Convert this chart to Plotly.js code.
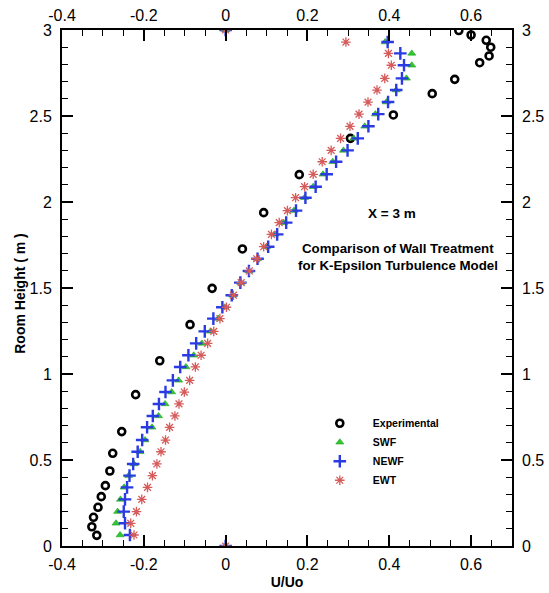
<!DOCTYPE html>
<html>
<head>
<meta charset="utf-8">
<script src="https://cdn.plot.ly/plotly-3.0.1.min.js"></script>
<style>
html,body{margin:0;padding:0;background:#fff;}
#chart{width:549px;height:593px;}
</style>
</head>
<body>
<div id="chart"></div>
<script>
// ---- data ----
const seriesNames = ['Experimental', 'SWF', 'NEWF', 'EWT'];

const expU = [0.570, 0.600, 0.637, 0.648, 0.644, 0.621, 0.560, 0.505, 0.410, 0.305, 0.180, 0.093, 0.041, -0.033, -0.087, -0.161, -0.220, -0.254, -0.276, -0.283, -0.294, -0.304, -0.312, -0.323, -0.327, -0.315];
const expH = [2.997, 2.971, 2.940, 2.900, 2.849, 2.810, 2.713, 2.630, 2.506, 2.370, 2.159, 1.938, 1.727, 1.498, 1.287, 1.077, 0.880, 0.665, 0.539, 0.436, 0.351, 0.287, 0.225, 0.167, 0.112, 0.062];

const cfdH = [0, 0.064, 0.132, 0.200, 0.271, 0.341, 0.409, 0.477, 0.548, 0.616, 0.690, 0.756, 0.826, 0.895, 0.963, 1.041, 1.109, 1.178, 1.248, 1.322, 1.388, 1.458, 1.531, 1.599, 1.670, 1.740, 1.812, 1.880, 1.950, 2.025, 2.089, 2.161, 2.234, 2.300, 2.370, 2.440, 2.511, 2.581, 2.651, 2.719, 2.795, 2.864, 2.930, 3];

const swfU = [0, -0.258, -0.268, -0.264, -0.257, -0.248, -0.237, -0.224, -0.209, -0.197, -0.180, -0.164, -0.148, -0.132, -0.115, -0.097, -0.078, -0.058, -0.037, -0.018, -0.002, 0.017, 0.037, 0.057, 0.078, 0.100, 0.121, 0.142, 0.167, 0.193, 0.214, 0.238, 0.262, 0.288, 0.313, 0.340, 0.366, 0.393, 0.417, 0.442, 0.455, 0.455, 0.390, 0];

const newfU = [0, -0.234, -0.246, -0.249, -0.246, -0.241, -0.235, -0.226, -0.215, -0.204, -0.192, -0.178, -0.163, -0.147, -0.129, -0.111, -0.091, -0.072, -0.051, -0.030, -0.008, 0.015, 0.036, 0.057, 0.078, 0.104, 0.126, 0.148, 0.172, 0.195, 0.220, 0.247, 0.270, 0.298, 0.323, 0.349, 0.373, 0.397, 0.417, 0.431, 0.436, 0.427, 0.396, 0];

const ewtU = [0, -0.224, -0.232, -0.218, -0.205, -0.191, -0.179, -0.168, -0.158, -0.147, -0.137, -0.124, -0.114, -0.101, -0.088, -0.074, -0.060, -0.044, -0.029, -0.014, 0.002, 0.019, 0.038, 0.058, 0.076, 0.093, 0.112, 0.131, 0.151, 0.171, 0.193, 0.214, 0.236, 0.258, 0.281, 0.304, 0.326, 0.348, 0.370, 0.389, 0.405, 0.398, 0.294, 0];

const xTickVals = [-0.4, -0.2, 0, 0.2, 0.4, 0.6];
const xTickText = ['-0.4', '-0.2', '0', '0.2', '0.4', '0.6'];
const yTickVals = [0, 0.5, 1, 1.5, 2, 2.5, 3];
const yTickText = ['0', '0.5', '1', '1.5', '2', '2.5', '3'];

const xTitle = 'U/Uo';
const yTitle = 'Room Height ( m )';
const noteLines = ['X = 3 m', 'Comparison of Wall Treatment', 'for K-Epsilon Turbulence Model'];

// ---- chart ----
const FONT = '"Liberation Sans", Arial, Helvetica, sans-serif';

const traces = [
  {x: expU, y: expH, name: seriesNames[0], mode: 'markers', type: 'scatter',
   marker: {symbol: 'circle-open', size: 7, color: '#000', line: {width: 2.6, color: '#000'}}},
  {x: swfU, y: cfdH, name: seriesNames[1], mode: 'markers', type: 'scatter',
   marker: {symbol: 'triangle-up', size: 7, color: '#2fc92f', line: {width: 0.6, color: '#1fa01f'}}},
  {x: newfU, y: cfdH, name: seriesNames[2], mode: 'markers', type: 'scatter',
   marker: {symbol: 'cross-thin-open', size: 9, color: '#2a3be3', line: {width: 2.4, color: '#2a3be3'}}},
  {x: ewtU, y: cfdH, name: seriesNames[3], mode: 'markers', type: 'scatter',
   marker: {symbol: 'asterisk-open', size: 8, color: '#d65b5b', line: {width: 1.3, color: '#d65b5b'}}},
  {x: [], y: [], xaxis: 'x2', yaxis: 'y2', type: 'scatter', mode: 'markers', showlegend: false, hoverinfo: 'skip'}
];

const baseAxis = {
  showgrid: false, zeroline: false, showline: true, linewidth: 2, linecolor: '#000',
  mirror: 'ticks', ticks: 'inside', ticklen: 11, tickwidth: 2, tickcolor: '#000',
  tickfont: {family: FONT, size: 16, color: '#000'}, automargin: false
};

const layout = {
  width: 549, height: 593,
  margin: {l: 62, r: 37, t: 30, b: 47, pad: 0},
  paper_bgcolor: '#fff', plot_bgcolor: '#fff',
  font: {family: FONT, size: 16, color: '#000'},
  showlegend: true,
  legend: {x: 0.544, y: 0.266, xanchor: 'left', yanchor: 'top', bgcolor: 'rgba(0,0,0,0)',
           font: {family: FONT, size: 10.5, color: '#000', weight: 'bold'}, itemwidth: 56, tracegroupgap: 0},
  xaxis: Object.assign({}, baseAxis, {
    range: [-0.4, 0.7], tickmode: 'array', tickvals: xTickVals, ticktext: xTickText,
    minor: {tickmode: 'linear', tick0: 0, dtick: 0.05, ticks: 'inside', ticklen: 6, tickwidth: 1, tickcolor: '#000', showgrid: false},
    ticklabelstandoff: 3,
    title: {text: '<b>' + xTitle + '</b>', font: {family: FONT, size: 14, color: '#000'}, standoff: 5}
  }),
  yaxis: Object.assign({}, baseAxis, {
    range: [0, 3], tickmode: 'array', tickvals: yTickVals, ticktext: yTickText,
    minor: {tickmode: 'linear', tick0: 0, dtick: 0.1, ticks: 'inside', ticklen: 6, tickwidth: 1, tickcolor: '#000', showgrid: false},
    ticklabelstandoff: 5
  }),
  xaxis2: {overlaying: 'x', side: 'top', anchor: 'y', range: [-0.4, 0.7], tickmode: 'array', tickvals: xTickVals, ticktext: xTickText,
    showgrid: false, zeroline: false, showline: false, ticks: '', ticklabelstandoff: 5,
    tickfont: {family: FONT, size: 16, color: '#000'}, automargin: false},
  yaxis2: {overlaying: 'y', side: 'right', anchor: 'x', range: [0, 3], tickmode: 'array', tickvals: yTickVals, ticktext: yTickText,
    showgrid: false, zeroline: false, showline: false, ticks: '', ticklabelstandoff: 9,
    tickfont: {family: FONT, size: 16, color: '#000'}, automargin: false},
  annotations: [
    {xref: 'paper', yref: 'paper', x: -0.092, y: 0.49, text: '<b>' + yTitle + '</b>', textangle: -90, showarrow: false,
     font: {family: FONT, size: 14, color: '#000'}, xanchor: 'center', yanchor: 'middle'},
    {xref: 'paper', yref: 'paper', x: 0.733, y: 0.645, text: '<b>' + noteLines[0] + '</b>', showarrow: false,
     font: {family: FONT, size: 13.5, color: '#000'}, xanchor: 'center', yanchor: 'middle'},
    {xref: 'paper', yref: 'paper', x: 0.747, y: 0.577, text: '<b>' + noteLines[1] + '</b>', showarrow: false,
     font: {family: FONT, size: 13.3, color: '#000'}, xanchor: 'center', yanchor: 'middle'},
    {xref: 'paper', yref: 'paper', x: 0.747, y: 0.544, text: '<b>' + noteLines[2] + '</b>', showarrow: false,
     font: {family: FONT, size: 13.3, color: '#000'}, xanchor: 'center', yanchor: 'middle'}
  ]
};

Plotly.newPlot('chart', traces, layout, {displayModeBar: false, staticPlot: true});
</script>
</body>
</html>
